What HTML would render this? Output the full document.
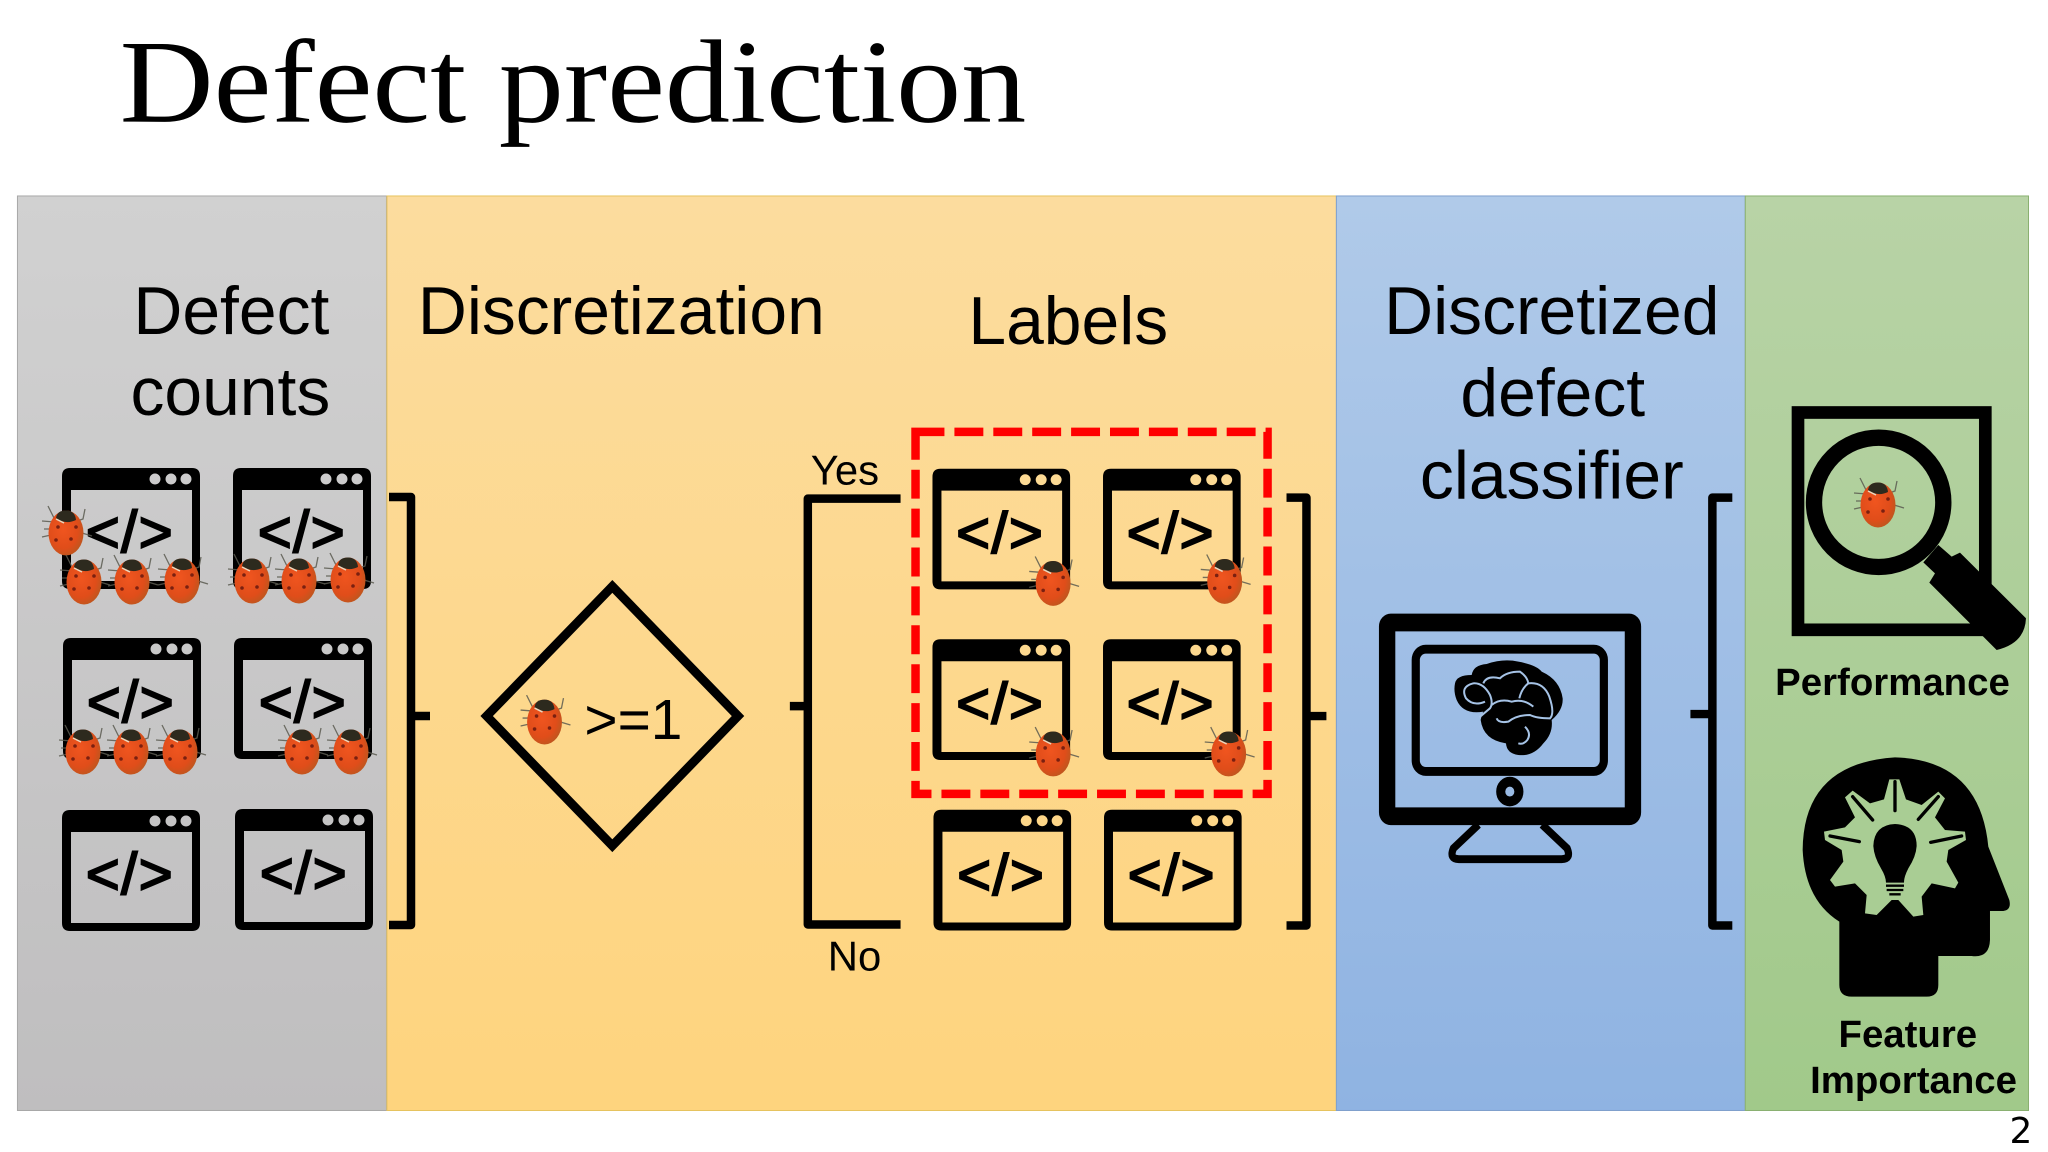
<!DOCTYPE html>
<html><head><meta charset="utf-8"><style>
html,body{margin:0;padding:0;background:#fff}svg{display:block}
text{font-family:"Liberation Sans",sans-serif;fill:#000}
.w text{stroke:#000;stroke-width:2px;font-size:58px;letter-spacing:1.500px;text-anchor:middle}
</style></head><body>
<svg width="2048" height="1152" viewBox="0 0 2048 1152" xmlns="http://www.w3.org/2000/svg">
<defs>
<linearGradient id="g1" x1="0" y1="0" x2="0" y2="1"><stop offset="0" stop-color="#d1d1d1"/><stop offset="1" stop-color="#bfbebf"/></linearGradient>
<linearGradient id="g2" x1="0" y1="0" x2="0" y2="1"><stop offset="0" stop-color="#fcdc9e"/><stop offset="1" stop-color="#fed47e"/></linearGradient>
<linearGradient id="g3" x1="0" y1="0" x2="0" y2="1"><stop offset="0" stop-color="#b0cae9"/><stop offset="1" stop-color="#8fb3e2"/></linearGradient>
<linearGradient id="g4" x1="0" y1="0" x2="0" y2="1"><stop offset="0" stop-color="#b8d3a6"/><stop offset="1" stop-color="#a1c98a"/></linearGradient>
<radialGradient id="bug" cx=".42" cy=".42" r=".65"><stop offset="0" stop-color="#f0551f"/><stop offset=".65" stop-color="#e04d1a"/><stop offset="1" stop-color="#b8581f"/></radialGradient>
<path id="win" fill="#000" fill-rule="evenodd" d="M8 0H130Q138 0 138 8V113Q138 121 130 121H8Q0 121 0 113V8Q0 0 8 0ZM9 22V113H130V22ZM93 5.500a5.500 5.500 0 1 0 .01 0ZM109 5.500a5.500 5.500 0 1 0 .01 0ZM124 5.500a5.500 5.500 0 1 0 .01 0Z"/>
<g id="b">
<g stroke="#5a5a50" stroke-width="1.300" fill="none" opacity=".85"><path d="M-18-27L-12-15M19-24L17-14L11-12M-24-12L-11-11M-24 4L-15 2M26 3L16 0M-22-4L-16-4"/></g>
<ellipse cx="0" cy="0" rx="17.500" ry="22.500" fill="url(#bug)"/>
<path d="M-10-15Q-9-22.500 0-22.500Q9-22.500 10-13Q0-8-10-15Z" fill="#2d2a1e"/>
<path d="M-10-14Q-6-12-2-10" stroke="#e8d8c0" stroke-width="1.500" fill="none"/>
<g fill="#7a2010"><circle cx="-8" cy="-6" r="1.800"/><circle cx="10" cy="-6" r="1.800"/><circle cx="-10" cy="7" r="1.800"/><circle cx="5" cy="6" r="1.800"/></g>
</g>
</defs>

<rect width="2048" height="1152" fill="#fff"/>
<g transform="scale(.9973)">
<text x="120" y="122" font-size="119" textLength="909" lengthAdjust="spacingAndGlyphs" style="font-family:'Liberation Serif',serif">Defect prediction</text>

<rect x="17.500" y="196.500" width="370" height="917" fill="url(#g1)" stroke="#a8a8a8"/>
<rect x="388" y="196.500" width="952" height="917" fill="url(#g2)" stroke="#e6c35e"/>
<rect x="1340" y="196.500" width="410" height="917" fill="url(#g3)" stroke="#7f9fcc"/>
<rect x="1750" y="196.500" width="284" height="917" fill="url(#g4)" stroke="#8ab070"/>

<g font-size="68">
<text x="232" y="335" text-anchor="middle">Defect</text>
<text x="231" y="416" text-anchor="middle">counts</text>
<text x="419" y="335">Discretization</text>
<text x="971" y="345">Labels</text>
<text x="1556" y="335" text-anchor="middle">Discretized</text>
<text x="1557" y="417" text-anchor="middle">defect</text>
<text x="1556" y="500" text-anchor="middle">classifier</text>
</g>
<text x="813" y="486" font-size="42">Yes</text>
<text x="830" y="973" font-size="42">No</text>
<text x="586" y="741" font-size="57">&gt;=1</text>
<g font-size="38.500" font-weight="bold">
<text x="1780" y="697">Performance</text>
<text x="1913" y="1050" text-anchor="middle">Feature</text>
<text x="1815" y="1096">Importance</text>
</g>
<text x="2015" y="1146" font-size="36" style="font-family:'DejaVu Sans',sans-serif">2</text>

<!-- label windows -->
<g class="w">
<g transform="translate(935,470)"><use href="#win"/><text x="68" y="84">&lt;/&gt;</text></g>
<g transform="translate(1106,470)"><use href="#win"/><text x="68" y="84">&lt;/&gt;</text></g>
<g transform="translate(935,641)"><use href="#win"/><text x="68" y="84">&lt;/&gt;</text></g>
<g transform="translate(1106,641)"><use href="#win"/><text x="68" y="84">&lt;/&gt;</text></g>
<g transform="translate(936,812)"><use href="#win"/><text x="68" y="85">&lt;/&gt;</text></g>
<g transform="translate(1107,812)"><use href="#win"/><text x="68" y="85">&lt;/&gt;</text></g>
</g>

<use href="#b" transform="translate(1056,585)"/><use href="#b" transform="translate(1228,583)"/>
<use href="#b" transform="translate(1056,756)"/><use href="#b" transform="translate(1232,756)"/>
<use href="#b" transform="translate(546,724)"/>

<g fill="none" stroke="#000" stroke-width="8.500" stroke-linejoin="round">
<path d="M903 500H810V927H903M792 708H810"/>
<path d="M1290 499H1310V928H1290M1310 718H1330"/>
<path d="M1737 499H1717V928H1737M1717 716H1695"/>
</g>
<polygon points="614,588 740,718 614,848 488,718" fill="none" stroke="#000" stroke-width="9"/>
<rect x="918" y="433" width="353" height="363" fill="none" stroke="#f00" stroke-width="8.500" stroke-dasharray="29 10"/>

<!-- monitor -->
<g transform="translate(1343.500,381) scale(.4556,.4943)">
<rect x="104" y="492" width="541" height="393" rx="8" fill="none" stroke="#000" stroke-width="36"/>
<rect x="167" y="546" width="414" height="248" rx="22" fill="none" stroke="#000" stroke-width="18"/>
<circle cx="374" cy="835" r="20" fill="none" stroke="#000" stroke-width="20"/>
<path d="M305 902L250 950Q240 972 262 972H488Q510 972 500 950L445 902" fill="none" stroke="#000" stroke-width="16"/>
</g>
</g>

<!-- left windows -->
<g class="w">
<g transform="translate(62,468)"><use href="#win"/><text x="68" y="84">&lt;/&gt;</text></g>
<g transform="translate(233,468)"><use href="#win"/><text x="69" y="84">&lt;/&gt;</text></g>
<g transform="translate(63,638)"><use href="#win"/><text x="68" y="84">&lt;/&gt;</text></g>
<g transform="translate(234,638)"><use href="#win"/><text x="69" y="84">&lt;/&gt;</text></g>
<g transform="translate(62,810)"><use href="#win"/><text x="68" y="84">&lt;/&gt;</text></g>
<g transform="translate(235,809)"><use href="#win"/><text x="69" y="84">&lt;/&gt;</text></g>
</g>
<use href="#b" transform="translate(66,533)"/>
<use href="#b" transform="translate(84,582)"/><use href="#b" transform="translate(132,582)"/><use href="#b" transform="translate(182,581)"/>
<use href="#b" transform="translate(252,581)"/><use href="#b" transform="translate(299,581)"/><use href="#b" transform="translate(348,580)"/>
<use href="#b" transform="translate(83,752)"/><use href="#b" transform="translate(131,752)"/><use href="#b" transform="translate(180,752)"/>
<use href="#b" transform="translate(302,752)"/><use href="#b" transform="translate(351,752)"/>

<g fill="none" stroke="#000" stroke-width="8.500" stroke-linejoin="round"><path d="M389 497H411V925H389M411 716H430"/></g>

<!-- brain -->
<g transform="translate(1440,640) scale(.3333)">
<path d="M45 130Q50 105 95 105Q100 75 140 72Q190 55 235 65Q290 75 305 95Q360 120 368 175Q370 210 335 240Q340 280 310 310Q280 350 235 345Q200 340 198 310Q130 300 122 240Q125 225 130 215Q70 225 50 180Q40 155 45 130Z" fill="#000"/>
<path d="M135 185Q100 200 78 175Q60 140 100 130Q130 128 150 165Q160 190 150 205L118 232M130 130Q140 105 180 115Q200 95 240 95Q262 110 265 130Q245 145 238 175M265 130Q310 125 328 170Q345 220 330 235Q290 235 270 225Q230 225 205 245Q175 250 170 235M155 195Q180 175 215 185Q250 175 280 200M255 260Q275 280 262 300Q250 315 235 310" fill="none" stroke="#a6c3e6" stroke-width="6"/>
</g>

<!-- magnifier -->
<g transform="translate(1780,400) scale(.3333)">
<rect x="54" y="37.500" width="562" height="652" fill="none" stroke="#000" stroke-width="38"/>
<circle cx="296" cy="307" r="194" fill="none" stroke="#000" stroke-width="49"/>
<path d="M540 458L738 655Q735 730 650 750L448 548L465 520L430 487L475 435L515 470Z" fill="#000"/>
</g>
<use href="#b" transform="translate(1878,505)"/>

<!-- head -->
<g transform="translate(1780,740) scale(.3333)">
<path d="M178 545V735Q178 770 215 770H440Q475 770 475 735V648H575Q628 655 630 600V513H670Q695 510 688 480L625 320Q600 60 345 52Q70 70 68 330Q75 480 178 545Z" fill="#000"/>
<polygon fill="#a9cd94" points="328,118 358,118 378,178 425,195 475,155 495,175 465,232 495,270 555,275 558,300 505,330 500,365 535,428 525,445 455,430 425,470 430,525 400,530 355,480 335,480 290,525 255,520 260,465 225,430 165,440 150,420 190,365 185,330 135,300 132,275 195,262 225,232 195,172 218,152 270,190 312,178"/>
<path d="M345 125V212M218 170L278 240M475 170L415 238M150 288L238 305M545 288L452 307" stroke="#000" stroke-width="10" stroke-linecap="round" fill="none"/>
<path d="M345 252Q410 255 410 318Q408 350 385 385Q372 410 372 428H318Q318 410 303 385Q282 350 280 318Q282 255 345 252Z" fill="#000"/>
<path d="M318 437H372M320 450H370M328 463H362" stroke="#000" stroke-width="7" fill="none"/>
</g>
</svg>
</body></html>
